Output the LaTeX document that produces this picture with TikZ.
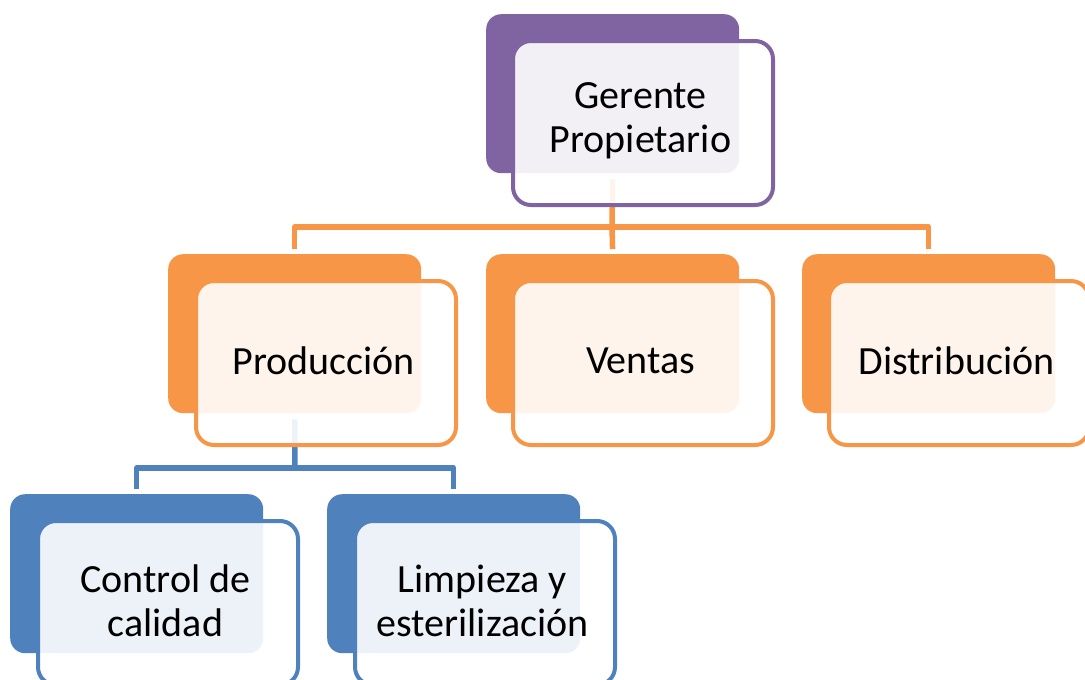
\documentclass[tikz,border=0pt]{standalone}
\usepackage{fontspec}
\setmainfont{Carlito}
\definecolor{purp}{HTML}{8064A2}
\definecolor{orng}{HTML}{F79646}
\definecolor{blu}{HTML}{4F81BD}
\begin{document}
\begin{tikzpicture}[x=1pt,y=-1pt,
  backbox/.style={fill=#1,draw=none,rounded corners=15pt,minimum width=253pt,minimum height=159pt,inner sep=0pt,anchor=north west},
  frontbox/.style={draw=#1,line width=4pt,fill=white,fill opacity=0.9,rounded corners=18pt,minimum width=260pt,minimum height=164pt,inner sep=0pt,anchor=north west},
  boxtext/.style={inner sep=0pt,align=center,font=\fontsize{40}{44}\selectfont,xshift=-2.5pt,yshift=2.5pt},
  conn/.style={draw=#1,line width=5.5pt,line join=round}]
\useasboundingbox (0,0) rectangle (1085,680);
\clip (0,0) rectangle (1085,680);
% back boxes
\node[backbox=purp] (g) at (486,14) {};
\node[backbox=orng] (p) at (168,254) {};
\node[backbox=orng] (v) at (486,254) {};
\node[backbox=orng] (d) at (802,254) {};
\node[backbox=blu] (c) at (10,494) {};
\node[backbox=blu] (l) at (327,494) {};
% connectors
\coordinate (obar) at (612,227);
\coordinate (bbar) at (295,468);
\draw[conn=orng,shorten <=6pt] (g.south) -- (obar);
\draw[conn=orng,shorten >=5pt] (obar) -| (p.north);
\draw[conn=orng,shorten >=5pt] (obar) -| (d.north);
\draw[conn=orng,shorten >=5pt] (obar) -- (v.north);
\draw[conn=blu,shorten <=6pt] (p.south) -- (bbar);
\draw[conn=blu,shorten >=5pt] (bbar) -| (c.north);
\draw[conn=blu,shorten >=5pt] (bbar) -| (l.north);
% front boxes
\node[frontbox=purp] (gt) at (511,39) {};
\node[frontbox=orng] (pt) at (194,279) {};
\node[frontbox=orng] (vt) at (511,279) {};
\node[frontbox=orng] (dt) at (827,279) {};
\node[frontbox=blu] (ct) at (36,519) {};
\node[frontbox=blu] (lt) at (353,519) {};
% texts
\node[boxtext] (gtx) at (gt.center) {Gerente\\Propietario};
\node[boxtext] (ptx) at (pt.center) {Producción};
\node[boxtext] (vtx) at (vt.center) {Ventas};
\node[boxtext] (dtx) at (dt.center) {Distribución};
\node[boxtext] (ctx) at (ct.center) {Control de\\calidad};
\node[boxtext] (ltx) at (lt.center) {Limpieza y\\esterilización};
\end{tikzpicture}
\end{document}
